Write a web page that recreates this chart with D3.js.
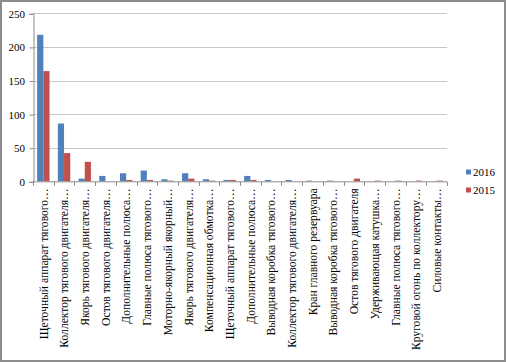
<!DOCTYPE html>
<meta charset="utf-8">
<style>
body { margin: 0; background: #fff; }
</style>
<svg width="506" height="362"></svg>
<script src="https://cdn.jsdelivr.net/npm/d3@7/dist/d3.min.js"></script>
<script>

var categories = [
  "Щеточный аппарат тягового…",
  "Коллектор тягового двигателя…",
  "Якорь тягового двигателя…",
  "Остов тягового двигателя…",
  "Дополнительные полюса…",
  "Главные полюса тягового…",
  "Моторно-якорный якорный…",
  "Якорь тягового двигателя…",
  "Компенсационная обмотка…",
  "Щеточный аппарат тягового…",
  "Дополнительные полюса…",
  "Выводная коробка тягового…",
  "Коллектор тягового двигателя…",
  "Кран главного резервуара",
  "Выводная коробка тягового…",
  "Остов тягового двигателя",
  "Удерживающая катушка…",
  "Главные полюса тягового…",
  "Круговой огонь по коллектору…",
  "Силовые контакты…"
];
var v2016 = [218, 86, 4, 8, 12, 16, 3, 12, 3, 2, 8, 2, 2, 1, 1, 0, 0, 0, 0, 0];
var v2015 = [164, 42, 29, 0, 2, 2, 1, 4, 1, 2, 2, 0, 0, 0, 0, 4, 1, 1, 1, 1];
var series = ["2016", "2015"];
var colors = ["#4F81BD", "#C0504D"];
var yTicks = [0, 50, 100, 150, 200, 250];

var svg = d3.select("svg");
var serif = "'Liberation Serif'";

// outer frame
svg.append("rect")
    .attr("x", 1).attr("y", 1)
    .attr("width", 504).attr("height", 360)
    .attr("fill", "#fff")
    .attr("stroke", "#8c8c8c")
    .attr("stroke-width", 2);

var plotL = 33, plotR = 447, plotT = 13.3, plotB = 181.3;

var x = d3.scaleBand().domain(d3.range(categories.length)).range([plotL, plotR]);
var xs = d3.scaleBand().domain(series).range([0, x.bandwidth()]).paddingInner(0).paddingOuter(0.67);
var y = d3.scaleLinear().domain([0, 250]).range([plotB, plotT]);

// gridlines
svg.append("g")
  .selectAll("line")
  .data(yTicks.slice(1))
  .enter().append("line")
    .attr("x1", plotL).attr("x2", plotR)
    .attr("y1", function(d) { return Math.round(y(d)) + 0.5; })
    .attr("y2", function(d) { return Math.round(y(d)) + 0.5; })
    .attr("stroke", "#c8c8c8");

// y axis
var yAxis = svg.append("g")
    .attr("transform", "translate(" + (plotL + 0.5) + ",0.5)")
    .call(d3.axisLeft(y).tickValues(yTicks).tickSize(4).tickPadding(4.5));
yAxis.select(".domain").attr("stroke", "#8c8c8c");
yAxis.selectAll(".tick line").attr("stroke", "#8c8c8c");
yAxis.selectAll("text")
    .style("font-family", serif)
    .style("font-size", "11px");

// bars
var data = categories.map(function(c, i) {
  return { i: i, vals: [v2016[i], v2015[i]] };
});
var grp = svg.append("g").selectAll("g")
  .data(data)
  .enter().append("g")
    .attr("transform", function(d) { return "translate(" + x(d.i) + ",0)"; });
grp.selectAll("rect")
  .data(function(d) { return d.vals.map(function(v, k) { return { s: series[k], v: v, k: k }; }); })
  .enter().append("rect")
    .attr("x", function(d) { return xs(d.s); })
    .attr("width", xs.bandwidth())
    .attr("y", function(d) { return y(d.v); })
    .attr("height", function(d) { return plotB - y(d.v); })
    .attr("fill", function(d) { return colors[d.k]; });

// x axis
var xAxis = svg.append("g")
    .attr("transform", "translate(0," + (plotB + 0.5) + ")");
xAxis.append("line")
    .attr("x1", plotL).attr("x2", plotR)
    .attr("stroke", "#8c8c8c");
xAxis.selectAll(".tk")
  .data(d3.range(categories.length + 1))
  .enter().append("line")
    .attr("class", "tk")
    .attr("x1", function(d) { return Math.round(plotL + d * x.step()) + 0.5; })
    .attr("x2", function(d) { return Math.round(plotL + d * x.step()) + 0.5; })
    .attr("y1", 0).attr("y2", 4)
    .attr("stroke", "#8c8c8c");
xAxis.selectAll(".lbl")
  .data(categories)
  .enter().append("text")
    .attr("class", "lbl")
    .attr("transform", function(d, i) {
      return "translate(" + (x(i) + x.bandwidth() / 2 + 4.3) + ",6.5) rotate(-90)";
    })
    .attr("text-anchor", "end")
    .style("font-family", serif)
    .style("font-size", "11.6px")
    .text(function(d) { return d; });

// legend
var legend = svg.append("g")
    .attr("transform", "translate(466,0)");
series.forEach(function(s, k) {
  var ly = 172 + k * 18;
  legend.append("rect")
      .attr("x", 0).attr("y", ly - 2.5)
      .attr("width", 5).attr("height", 5)
      .attr("fill", colors[k]);
  legend.append("text")
      .attr("x", 7).attr("y", ly + 4)
      .style("font-family", serif)
      .style("font-size", "11px")
      .text(s);
});

</script>
